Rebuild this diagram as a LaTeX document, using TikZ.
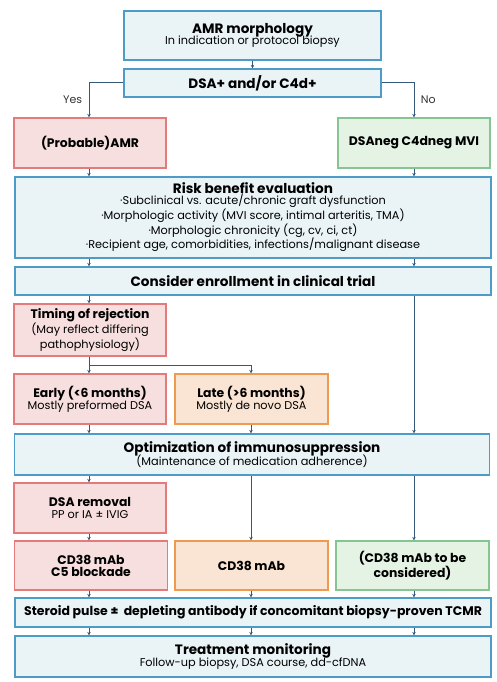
\documentclass[tikz,border=0pt]{standalone}
\usepackage{fontspec}
\setmainfont{Poppins}
\usepackage{xcolor}
\usetikzlibrary{arrows.meta, positioning, calc}

\definecolor{bluedraw}{HTML}{4D9CC8}
\definecolor{bluefill}{HTML}{EAF4F7}
\definecolor{reddraw}{HTML}{E57A7A}
\definecolor{redfill}{HTML}{F8DFDF}
\definecolor{greendraw}{HTML}{86C493}
\definecolor{greenfill}{HTML}{E5F3E5}
\definecolor{orangedraw}{HTML}{EC9B50}
\definecolor{orangefill}{HTML}{FAE4D3}
\definecolor{linecol}{HTML}{34577A}

% wide box title, narrow box title, small text
\newcommand{\ttl}[1]{{\fontsize{13.6}{16}\selectfont\bfseries #1}}
\newcommand{\ttn}[1]{{\fontsize{12.4}{14}\selectfont\bfseries #1}}
\newcommand{\sub}[1]{{\fontsize{11.3}{13.6}\selectfont #1}}

\begin{document}
\begin{tikzpicture}[x=1pt,y=-1pt,
    box/.style={draw, line width=1.2pt, align=center, inner sep=1pt, text=black},
    bluebox/.style={box, draw=bluedraw, fill=bluefill},
    redbox/.style={box, draw=reddraw, fill=redfill},
    greenbox/.style={box, draw=greendraw, fill=greenfill},
    orangebox/.style={box, draw=orangedraw, fill=orangefill},
    wide/.style={minimum width=476pt},
    narrow/.style={minimum width=152pt, minimum height=50pt},
    flow/.style={draw=linecol, line width=1pt, -{Stealth[length=3.5pt,width=3.5pt]}},
    lbl/.style={font=\fontsize{11}{13}\selectfont, text=black!80}]
    \useasboundingbox (0,0) rectangle (496,682);

    % top part
    \node[bluebox, minimum width=257pt, minimum height=49pt] (amr) at (252.5,35.5)
        {\ttl{AMR morphology}\\[-2pt]\sub{In indication or protocol biopsy}};
    \node[bluebox, minimum width=257pt, minimum height=28pt] (dsa) at (252.5,83)
        {\ttl{DSA+ and/or C4d+}};
    \node[redbox, narrow] (prob) at (90,143) {\ttn{(Probable)AMR}};
    \node[greenbox, narrow] (neg) at (414,143) {\ttn{DSAneg C4dneg MVI}};

    \node[bluebox, wide, minimum height=81pt] (risk) at (253,217.5)
        {\ttl{Risk benefit evaluation}\\[-1pt]
         \sub{·Subclinical vs. acute/chronic graft dysfunction}\\
         \sub{·Morphologic activity (MVI score, intimal arteritis, TMA)}\\
         \sub{·Morphologic chronicity (cg, cv, ci, ct)}\\
         \sub{·Recipient age, comorbidities, infections/malignant disease}};
    \node[bluebox, wide, minimum height=28pt] (trial) at (253,281)
        {\ttl{Consider enrollment in clinical trial}};

    % timing
    \node[redbox, narrow, minimum height=52pt] (timing) at (90,330)
        {\ttn{Timing of rejection}\\\sub{(May reflect differing}\\\sub{pathophysiology)}};
    \node[redbox, narrow] (early) at (90,399)
        {\ttn{Early (<6 months)}\\\sub{Mostly preformed DSA}};
    \node[orangebox, narrow, minimum width=153pt] (late) at (251.5,399)
        {\ttn{Late (>6 months)}\\\sub{Mostly de novo DSA}};

    \node[bluebox, minimum width=475pt, minimum height=41pt] (opt) at (252,454.5)
        {\ttl{Optimization of immunosuppression}\\[-2pt]\sub{(Maintenance of medication adherence)}};

    % treatment
    \node[redbox, narrow] (removal) at (90,508)
        {\ttn{DSA removal}\\\sub{PP or IA ± IVIG}};
    \node[redbox, narrow, minimum width=153pt, minimum height=49pt] (cdc5) at (91,565.5)
        {\ttn{CD38 mAb}\\\ttn{C5 blockade}};
    \node[orangebox, narrow, minimum width=153pt, minimum height=49pt] (cdlate) at (251.5,565.5)
        {\ttn{CD38 mAb}};
    \node[greenbox, narrow, minimum width=153pt, minimum height=49pt] (cdneg) at (412.5,565.5)
        {\ttn{(CD38 mAb to be}\\\ttn{considered)}};

    \node[bluebox, wide, minimum height=29pt] (steroid) at (253,612.5)
        {{\fontsize{12.5}{14}\selectfont\bfseries Steroid pulse ±\ \ depleting antibody if concomitant biopsy-proven TCMR}};
    \node[bluebox, wide, minimum height=41pt] (monitor) at (253,656.5)
        {\ttl{Treatment monitoring}\\[-2pt]\sub{Follow-up biopsy, DSA course, dd-cfDNA}};

    % column positions
    \coordinate (cl) at (89,0);
    \coordinate (cm) at (251,0);
    \coordinate (cr) at (414,0);

    % connectors
    \draw[flow] (amr) -- (dsa);
    \draw[flow] (dsa.west) -| node[lbl, pos=0.75, left=3pt] {Yes} (prob.north -| cl);
    \draw[flow] (dsa.east) -| node[lbl, pos=0.75, right=3pt] {No} (neg.north -| cr);
    \draw[flow] (prob.south -| cl) -- (risk.north -| cl);
    \draw[flow] (neg.south -| cr) -- (risk.north -| cr);
    \draw[flow] (risk.south -| cl) -- (trial.north -| cl);
    \draw[flow] (risk.south -| cr) -- (trial.north -| cr);
    \draw[flow] (trial.south -| cl) -- (timing.north -| cl);
    \draw[flow] (trial.south -| cr) -- (opt.north -| cr);

    \coordinate (split) at ($(timing.south -| cl)+(0,9)$);
    \draw[flow] (timing.south -| cl) -- (early.north -| cl);
    \draw[flow] (split) -| (late.north -| cm);

    \draw[flow] (early.south -| cl) -- (opt.north -| cl);
    \draw[flow] (late.south -| cm) -- (opt.north -| cm);
    \draw[flow] (opt.south -| cl) -- (removal.north -| cl);
    \draw[flow] (opt.south -| cm) -- (cdlate.north -| cm);
    \draw[flow] (opt.south -| cr) -- (cdneg.north -| cr);
    \draw[flow] (removal.south -| cl) -- (cdc5.north -| cl);

    \foreach \c/\b in {cl/cdc5, cm/cdlate, cr/cdneg}{
        \draw[flow] (\b.south -| \c) -- (steroid.north -| \c);
        \draw[flow] (steroid.south -| \c) -- (monitor.north -| \c);
    }
\end{tikzpicture}
\end{document}
